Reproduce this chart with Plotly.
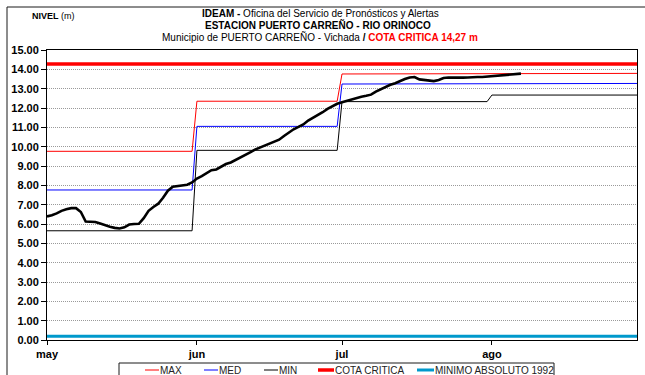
import pandas as pd
import plotly.graph_objects as go

# --- Datos -------------------------------------------------------------
MESES = ["may", "jun", "jul", "ago"]
INICIO_MES = ["2019-05-01", "2019-06-01", "2019-07-01", "2019-08-01"]
FIN_PERIODO = "2019-08-31"

# Niveles historicos mensuales (m)
NIVEL_MAX = [9.76, 12.35, 13.76, 13.79]
NIVEL_MED = [7.76, 11.05, 13.24, 13.27]
NIVEL_MIN = [5.65, 9.81, 12.33, 12.67]

COTA_CRITICA = 14.27
MINIMO_ABSOLUTO_1992 = 0.20

# Nivel diario observado desde el 1 de mayo (m)
NIVEL_DIARIO = [
    6.39, 6.45, 6.55, 6.68, 6.76, 6.82, 6.82, 6.62, 6.13, 6.12,
    6.10, 6.02, 5.93, 5.86, 5.80, 5.77, 5.83, 5.97, 6.00, 6.01,
    6.30, 6.68, 6.88, 7.05, 7.36, 7.72, 7.93, 7.97, 8.00, 8.03,
    8.15, 8.35, 8.48, 8.65, 8.78, 8.82, 8.95, 9.10, 9.18, 9.30,
    9.45, 9.55, 9.70, 9.85, 9.95, 10.05, 10.15, 10.28, 10.36, 10.55,
    10.72, 10.90, 11.02, 11.15, 11.35, 11.48, 11.62, 11.78, 11.95, 12.08,
    12.22, 12.30, 12.38, 12.45, 12.52, 12.58, 12.63, 12.69, 12.85, 12.98,
    13.10, 13.20, 13.28, 13.40, 13.50, 13.58, 13.60, 13.48, 13.45, 13.42,
    13.39, 13.45, 13.55, 13.58, 13.57, 13.58, 13.57, 13.58, 13.60, 13.60,
    13.60, 13.62, 13.65, 13.67, 13.70, 13.72, 13.74, 13.76, 13.78,
]

Y_TICKS = list(range(0, 16))

# --- Series diarias ------------------------------------------------------
dias = pd.date_range(INICIO_MES[0], FIN_PERIODO, freq="D")
inicio = pd.to_datetime(INICIO_MES)


def por_dia(valores_mes):
    return pd.Series(valores_mes, index=inicio).reindex(dias, method="ffill")


dias_obs = dias[: len(NIVEL_DIARIO)]
extremos = [dias[0], dias[-1]]

ROJO = "#FF0000"
AZUL = "#0000FF"
NEGRO = "#000000"
CIAN = "#0099CC"
NARROW = "Liberation Sans Narrow, Arial Narrow, Liberation Sans, Arial, sans-serif"
SANS = "Liberation Sans, Arial, sans-serif"

fig = go.Figure()
fig.add_trace(go.Scatter(x=extremos, y=[MINIMO_ABSOLUTO_1992] * 2, mode="lines",
                         name="MINIMO ABSOLUTO 1992", line=dict(color=CIAN, width=3)))
fig.add_trace(go.Scatter(x=extremos, y=[COTA_CRITICA] * 2, mode="lines",
                         name="COTA CRITICA", line=dict(color=ROJO, width=3.5)))
fig.add_trace(go.Scatter(x=dias, y=por_dia(NIVEL_MAX), mode="lines", name="MAX",
                         line=dict(color=ROJO, width=1)))
fig.add_trace(go.Scatter(x=dias, y=por_dia(NIVEL_MED), mode="lines", name="MED",
                         line=dict(color=AZUL, width=1)))
fig.add_trace(go.Scatter(x=dias, y=por_dia(NIVEL_MIN), mode="lines", name="MIN",
                         line=dict(color=NEGRO, width=1)))
fig.add_trace(go.Scatter(x=dias_obs, y=NIVEL_DIARIO, mode="lines", name="NIVEL",
                         line=dict(color=NEGRO, width=2.6)))

# --- Geometria -----------------------------------------------------------
W, H = 645, 375
ML, MR, MT, MB = 47, 8, 50, 35
PW, PH = W - ML - MR, H - MT - MB


def px(x):
    return (x - ML) / PW


def py(y):
    return (H - MB - y) / PH


shapes = [
    # marco exterior del grafico
    dict(type="rect", xref="paper", yref="paper", x0=px(7), x1=px(660),
         y0=py(395), y1=py(7), line=dict(color="#1a1a1a", width=1), layer="below"),
    # caja de la leyenda
    dict(type="rect", xref="paper", yref="paper", x0=px(119), x1=px(554),
         y0=py(395), y1=py(363), line=dict(color="#1a1a1a", width=1)),
]

annotations = [
    dict(text="<b>IDEAM -</b> Oficina del Servicio de Pronósticos y Alertas",
         x=px(320), y=py(13)),
    dict(text="<b>ESTACION PUERTO CARREÑO - RIO ORINOCO</b>",
         x=px(318), y=py(25)),
    dict(text="Municipio de PUERTO CARREÑO - Vichada <b>/</b> "
              f"<b><span style='color:{ROJO}'>COTA CRITICA {str(COTA_CRITICA).replace('.', ',')} m</span></b>",
         x=px(320), y=py(37.5)),
]
for a in annotations:
    a.update(xref="paper", yref="paper", xanchor="center", yanchor="middle",
             showarrow=False, font=dict(family=NARROW, size=10, color="#000000"))

annotations.append(dict(text="<b>NIVEL</b> (m)", x=px(30), y=py(16), xref="paper", yref="paper",
                        xanchor="left", yanchor="middle", showarrow=False,
                        font=dict(family=NARROW, size=9, color="#000000")))

# leyenda: muestra de linea + texto para cada serie
orden_leyenda = ["MAX", "MED", "MIN", "COTA CRITICA", "MINIMO ABSOLUTO 1992"]
inicio_muestra = [145, 204, 264, 318, 417]
largo_muestra = [14, 14, 14, 16, 17]
trazas = {t.name: t for t in fig.data}
for nombre, x0, largo in zip(orden_leyenda, inicio_muestra, largo_muestra):
    linea = trazas[nombre].line
    shapes.append(dict(type="line", xref="paper", yref="paper", x0=px(x0), x1=px(x0 + largo),
                       y0=py(370), y1=py(370), line=dict(color=linea.color, width=linea.width)))
    annotations.append(dict(text=nombre, x=px(x0 + largo - 1), y=py(370.5), xref="paper",
                            yref="paper", xanchor="left", yanchor="middle", showarrow=False,
                            font=dict(family=NARROW, size=10, color="#222222")))

fig.update_layout(
    width=W, height=H, autosize=False,
    margin=dict(l=ML, r=MR, t=MT, b=MB, pad=0),
    paper_bgcolor="white", plot_bgcolor="white",
    showlegend=False,
    shapes=shapes, annotations=annotations,
    xaxis=dict(
        type="date", range=[dias[0], dias[-1]],
        tickvals=inicio, ticktext=MESES,
        ticks="outside", ticklen=4, tickcolor=NEGRO,
        tickfont=dict(family=SANS, size=11, color=NEGRO, weight="bold"),
        showgrid=False, showline=True, linecolor=NEGRO, linewidth=1, mirror=True,
        zeroline=False,
    ),
    yaxis=dict(
        range=[0, 15], tickvals=Y_TICKS, tickformat=".2f",
        ticks="outside", ticklen=5, tickcolor=NEGRO,
        tickfont=dict(family=SANS, size=11, color=NEGRO, weight="bold"),
        showgrid=True, gridcolor="#9a9a9a", griddash="1px,1px", gridwidth=1,
        showline=True, linecolor=NEGRO, linewidth=1, mirror=True,
        zeroline=False,
    ),
)

fig.write_html("out.html")
